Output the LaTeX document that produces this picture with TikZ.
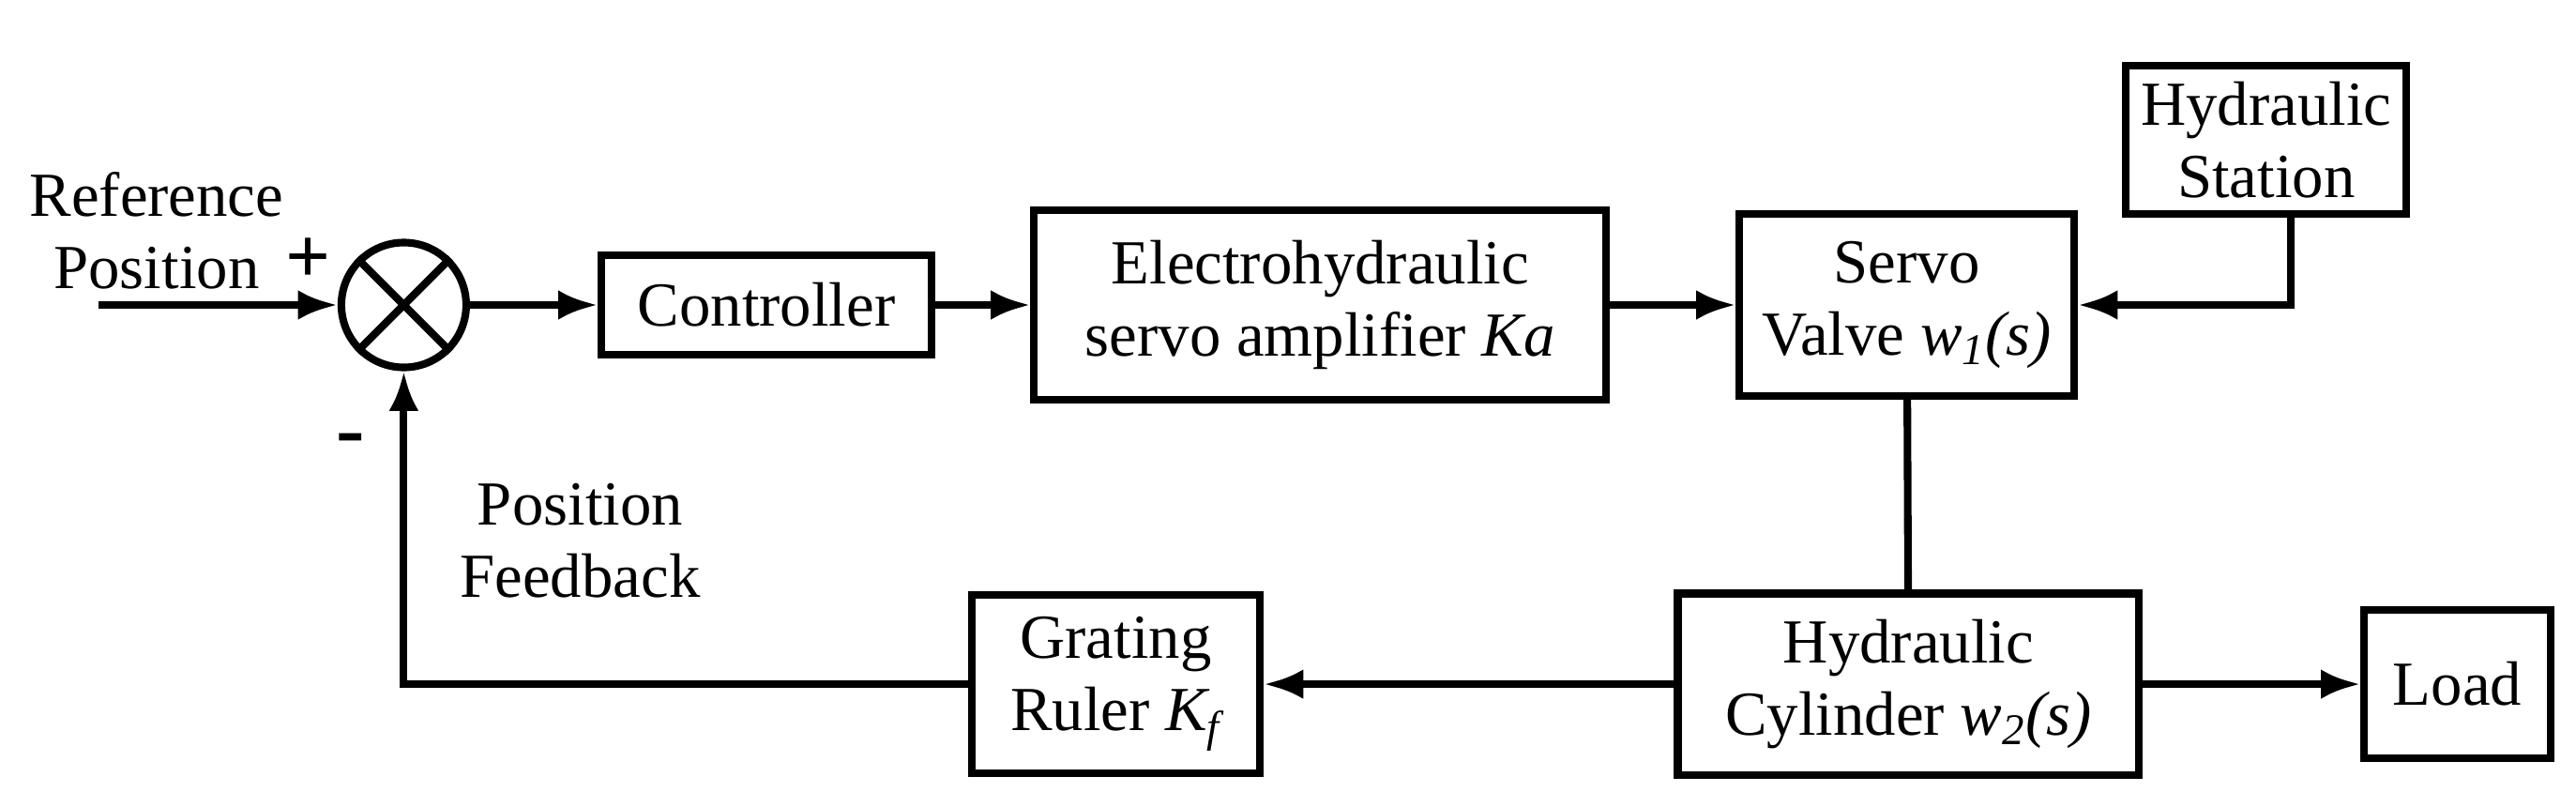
\documentclass[tikz,border=0pt]{standalone}
\usepackage{fontspec}
\setmainfont{Liberation Serif}
\usetikzlibrary{arrows.meta,shapes,positioning}
\begin{document}
\begin{tikzpicture}[x=0.01757cm,y=-0.01757cm,>={Latex[length=12pt,width=9pt]},line width=2.3pt,
    font=\fontsize{19}{22}\selectfont,
    blk/.style={draw,align=center,inner sep=2pt},
    lbl/.style={align=center,inner sep=0pt}]
        \useasboundingbox (0,0) rectangle (1563,480);
        \node[draw,circle,inner sep=0pt,minimum size=1.33cm] (sum) at (245,185) {};
        \draw (sum.north west) -- (sum.south east) (sum.north east) -- (sum.south west);
        \node[blk,minimum width=200*0.01757cm,minimum height=60*0.01757cm] (ctrl) at (465,185) {Controller};
        \node[blk,minimum width=347*0.01757cm,minimum height=115*0.01757cm] (amp) at (801,185) {Electrohydraulic\\servo amplifier \textit{Ka}};
        \node[blk,minimum width=203*0.01757cm,minimum height=110*0.01757cm] (valve) at (1157,185) {Servo\\Valve \textit{w\textsubscript{1}(s)}};
        \node[blk,minimum width=170*0.01757cm,minimum height=90*0.01757cm] (station) at (1375,85) {Hydraulic\\Station};
        \node[blk,minimum width=280*0.01757cm,minimum height=110*0.01757cm] (cyl) at (1158,415) {Hydraulic\\Cylinder \textit{w\textsubscript{2}(s)}};
        \node[blk,minimum width=113*0.01757cm,minimum height=90*0.01757cm] (load) at (1491,415) {Load};
        \node[blk,minimum width=175*0.01757cm,minimum height=108*0.01757cm] (ruler) at (677,415) {Grating\\Ruler \textit{K\textsubscript{f}}};
        \coordinate (in) at (60,185);
        \coordinate (fb) at (245,415);
        \coordinate (st) at (1390,185);
        \node[lbl] (ref) at (95,140) {Reference\\Position};
        \node[lbl,font=\fontsize{24}{24}\selectfont\bfseries] (plus) at (187,158) {+};
        \node[lbl,font=\fontsize{26}{26}\selectfont\bfseries] (minus) at (213,270) {-};
        \node[lbl] (pf) at (352,328) {Position\\Feedback};
    \path[->]   (in) edge (sum)
                (sum) edge (ctrl)
                (ctrl) edge (amp)
                (amp) edge (valve)
                (cyl) edge (ruler)
                (cyl) edge (load);
    \draw[->] (station.south -| st) -- (st) -- (valve.east);
    \draw (valve) -- (cyl);
    \draw[->] (ruler.west) -- (fb) -- (sum.south);
\end{tikzpicture}
\end{document}
